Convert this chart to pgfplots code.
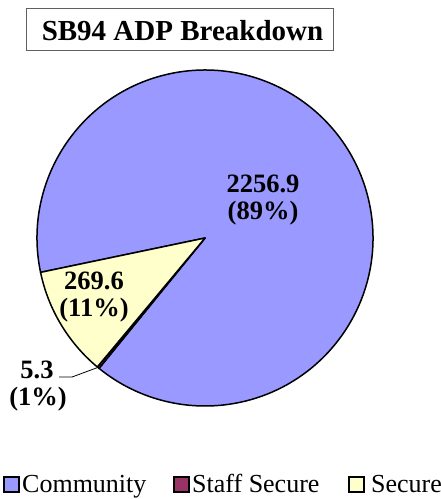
\documentclass[border=0pt]{standalone}
\usepackage{pgfplots}
\pgfplotsset{compat=1.18}
\usepackage{fontspec}
\setmainfont{Liberation Serif}
\definecolor{community}{HTML}{9999FF}
\definecolor{staffsec}{HTML}{993366}
\definecolor{secure}{HTML}{FFFFCC}
\definecolor{boxgray}{HTML}{606060}

% ADP values
\def\vComm{2256.9}
\def\vStaff{5.3}
\def\vSec{269.6}

\begin{document}
\begin{tikzpicture}[x=1pt,y=1pt]
    \pgfmathsetmacro\tot{\vComm+\vStaff+\vSec}
    \pgfmathsetmacro\aA{191.8}
    \pgfmathsetmacro\aB{\aA-360*(\vComm/\tot)}
    \pgfmathsetmacro\aC{\aB-360*(\vStaff/\tot)}
    \pgfmathsetmacro\aD{\aC-360*(\vSec/\tot)}
    \def\R{168pt}
    \path[use as bounding box] (0,0) rectangle (441,-499);
    \begin{axis}[
        at={(0,0)},anchor=north west,
        width=441pt,height=499pt,scale only axis,
        hide axis,clip=false,
        xmin=0,xmax=441,ymin=0,ymax=499,y dir=reverse]

        % slices
        \filldraw[fill=community,draw=black,line width=1.5pt,line join=round]
            (axis cs:205,238) -- ++(\aA:\R) arc[start angle=\aA,end angle=\aB,radius=\R] -- cycle;
        \filldraw[fill=staffsec,draw=black,line width=1.5pt,line join=round]
            (axis cs:205,238) -- ++(\aB:\R) arc[start angle=\aB,end angle=\aC,radius=\R] -- cycle;
        \filldraw[fill=secure,draw=black,line width=1.5pt,line join=round]
            (axis cs:205,238) -- ++(\aC:\R) arc[start angle=\aC,end angle=\aD,radius=\R] -- cycle;

        % title
        \draw[boxgray,line width=1pt] (axis cs:26,8) rectangle (axis cs:333,50);
        \node[anchor=base,font=\fontsize{29}{30}\selectfont\bfseries,inner sep=0pt]
            at (axis cs:182.5,40) {SB94 ADP Breakdown};

        % data labels
        \tikzset{lbl/.style={anchor=base,inner sep=0pt,font=\fontsize{26.5}{28}\selectfont\bfseries}}
        \node[lbl] at (axis cs:263,192) {2256.9};
        \node[lbl] at (axis cs:263,219) {(89\%)};
        \node[lbl] at (axis cs:94,289) {269.6};
        \node[lbl] at (axis cs:94,316) {(11\%)};
        \node[lbl] at (axis cs:37,378) {5.3};
        \node[lbl] at (axis cs:38,405) {(1\%)};
        \draw[black,line width=0.8pt] (axis cs:59,377) -- (axis cs:72,377) -- (axis cs:99,367);

        % legend
        \tikzset{lg/.style={anchor=base west,inner sep=0pt,font=\fontsize{26}{28}\selectfont}}
        \filldraw[fill=community,draw=black,line width=1.2pt] (axis cs:4,477) rectangle (axis cs:19,492);
        \node[lg] at (axis cs:22,492) {Community};
        \filldraw[fill=staffsec,draw=black,line width=1.2pt] (axis cs:174,477) rectangle (axis cs:189,492);
        \node[lg] at (axis cs:192,492) {Staff Secure};
        \filldraw[fill=secure,draw=black,line width=1.2pt] (axis cs:349,477) rectangle (axis cs:364,492);
        \node[lg] at (axis cs:371,492) {Secure};
    \end{axis}
\end{tikzpicture}
\end{document}
